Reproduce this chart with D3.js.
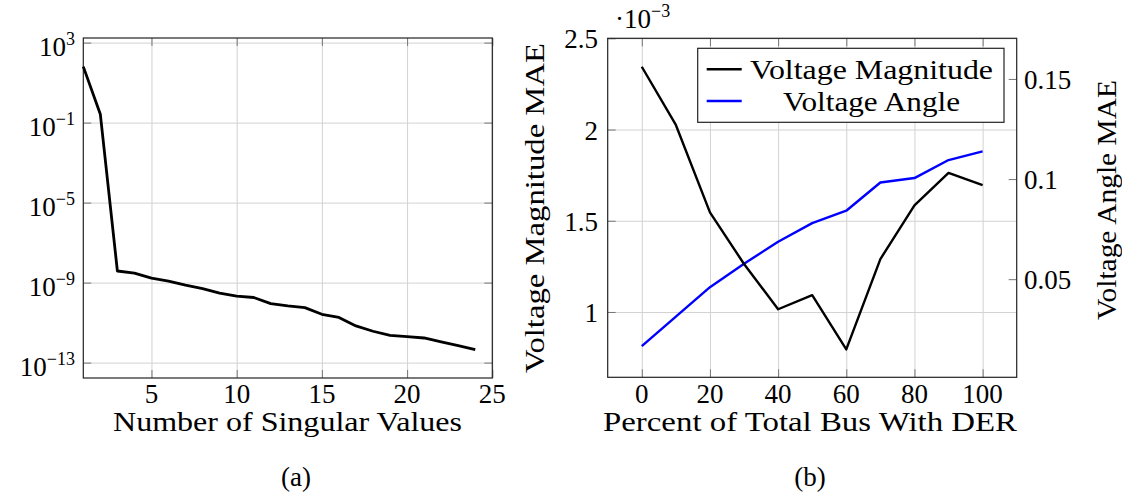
<!DOCTYPE html>
<html>
<head>
<meta charset="utf-8">
<script src="https://cdn.jsdelivr.net/npm/d3@7"></script>
<style>
  body { margin: 0; background: #fff; }
  text { font-family: "Liberation Serif", "DejaVu Serif", "Noto Serif", serif; }
  .grid line { stroke: #d2d2d2; stroke-width: 1; }
  .grid path, .ticks path { display: none; }
  .ticks line { stroke: #777; stroke-width: 1; }
</style>
</head>
<body>
<svg id="fig" width="1122" height="501"></svg>
<script>
// (a) singular values
var svIndex = [1, 2, 3, 4, 5, 6, 7, 8, 9, 10, 11, 12, 13, 14, 15, 16, 17, 18, 19, 20, 21, 22, 23, 24];
var svValue = [63, 0.26, 3.8e-9, 3.0e-9, 1.66e-9, 1.2e-9, 7.4e-10, 5.0e-10, 3.0e-10, 2.1e-10,
  1.8e-10, 8.9e-11, 6.8e-11, 5.6e-11, 2.6e-11, 1.8e-11, 6.8e-12, 3.7e-12, 2.3e-12, 2.0e-12,
  1.7e-12, 1.1e-12, 7.1e-13, 4.5e-13];
var svXTicks = [5, 10, 15, 20, 25];
var svYTicks = [1e3, 1e-1, 1e-5, 1e-9, 1e-13];

// (b) MAE vs percent of buses with DER
var derPercent = [0, 10, 20, 30, 40, 50, 60, 70, 80, 90, 100];
var magMAE = [2.344, 2.025, 1.546, 1.263, 1.015, 1.092, 0.795, 1.29, 1.584, 1.762, 1.695]; // x 1e-3
var angMAE = [0.0166, 0.0313, 0.046, 0.0577, 0.0687, 0.078, 0.0842, 0.0983, 0.1005, 0.1095, 0.1138];
var derXTicks = [0, 20, 40, 60, 80, 100];
var magTicks = [1, 1.5, 2, 2.5];
var angTicks = [0.05, 0.1, 0.15];
var seriesNames = ["Voltage Magnitude", "Voltage Angle"];

var svg = d3.select("#fig");
var FS = 27;
var SERIF = "'Liberation Serif', 'DejaVu Serif', 'Noto Serif', serif";

function frame(g, x, y, xt, yt, rightTicks) {
  var x0 = x.range()[0], x1 = x.range()[1];
  var y0 = y.range()[1], y1 = y.range()[0];
  var w = x1 - x0, h = y1 - y0;

  g.append("g").attr("class", "grid")
    .attr("transform", "translate(0," + y1 + ")")
    .call(d3.axisBottom(x).tickValues(xt).tickSize(-h).tickFormat(""));
  g.append("g").attr("class", "grid")
    .attr("transform", "translate(" + x0 + ",0)")
    .call(d3.axisLeft(y).tickValues(yt).tickSize(-w).tickFormat(""));

  g.append("g").attr("class", "ticks")
    .attr("transform", "translate(0," + y1 + ")")
    .call(d3.axisBottom(x).tickValues(xt).tickSize(-8).tickFormat(""));
  g.append("g").attr("class", "ticks")
    .attr("transform", "translate(0," + y0 + ")")
    .call(d3.axisTop(x).tickValues(xt).tickSize(-8).tickFormat(""));
  g.append("g").attr("class", "ticks")
    .attr("transform", "translate(" + x0 + ",0)")
    .call(d3.axisLeft(y).tickValues(yt).tickSize(-8).tickFormat(""));
  if (rightTicks) {
    g.append("g").attr("class", "ticks")
      .attr("transform", "translate(" + x1 + ",0)")
      .call(d3.axisRight(rightTicks.scale).tickValues(rightTicks.values).tickSize(-8).tickFormat(""));
  }

  g.append("rect")
    .attr("x", x0).attr("y", y0)
    .attr("width", w).attr("height", h)
    .attr("fill", "none").attr("stroke", "#222").attr("stroke-width", 1.2);
}

function txt(g) {
  return g.append("text").attr("font-family", SERIF).attr("font-size", FS);
}

function xLabels(g, x, vals, base) {
  g.selectAll(null).data(vals).enter().append("text")
    .attr("font-family", SERIF)
    .attr("x", function(d) { return x(d); })
    .attr("y", base)
    .attr("text-anchor", "middle")
    .attr("font-size", FS)
    .text(function(d) { return d; });
}

// ---------- (a)
var ga = svg.append("g");
var xa = d3.scaleLinear().domain([1, 25]).range([83.3, 492.3]);
var ya = d3.scaleLog().domain([Math.pow(10, -13.77), Math.pow(10, 3.23)]).range([378, 38]);

frame(ga, xa, ya, svXTicks, svYTicks, { scale: ya, values: svYTicks });

ga.append("path")
  .datum(svIndex.map(function(d, i) { return [d, svValue[i]]; }))
  .attr("fill", "none")
  .attr("stroke", "#000")
  .attr("stroke-width", 2.8)
  .attr("stroke-linejoin", "round")
  .attr("d", d3.line()
    .x(function(d) { return xa(d[0]); })
    .y(function(d) { return ya(d[1]); }));

xLabels(ga, xa, svXTicks, 403);

var ylab = ga.selectAll(null).data(svYTicks).enter().append("text")
  .attr("font-family", SERIF)
  .attr("x", 75)
  .attr("y", function(d) { return ya(d) + 13; })
  .attr("text-anchor", "end")
  .attr("font-size", FS);
ylab.append("tspan").text("10");
ylab.append("tspan")
  .attr("dy", -11)
  .attr("font-size", 18)
  .text(function(d) { return String(Math.round(Math.log10(d))).replace("-", "\u2212"); });

txt(ga)
  .attr("x", 287.5).attr("y", 431)
  .attr("text-anchor", "middle")
  .attr("textLength", 349).attr("lengthAdjust", "spacingAndGlyphs")
  .text("Number of Singular Values");

txt(ga)
  .attr("x", 296).attr("y", 486)
  .attr("text-anchor", "middle")
  .text("(a)");

// ---------- (b)
var gb = svg.append("g");
var xb = d3.scaleLinear().domain([-10, 110]).range([607.7, 1016.7]);
var yMag = d3.scaleLinear().domain([0.642, 2.5]).range([377.3, 38.3]);
var yAng = d3.scaleLinear().domain([0.001, 0.1703]).range([377.3, 38.3]);

frame(gb, xb, yMag, derXTicks, magTicks, { scale: yAng, values: angTicks });

gb.append("path")
  .datum(derPercent.map(function(d, i) { return [d, angMAE[i]]; }))
  .attr("fill", "none")
  .attr("stroke", "#0000ff")
  .attr("stroke-width", 2.4)
  .attr("stroke-linejoin", "round")
  .attr("d", d3.line()
    .x(function(d) { return xb(d[0]); })
    .y(function(d) { return yAng(d[1]); }));

gb.append("path")
  .datum(derPercent.map(function(d, i) { return [d, magMAE[i]]; }))
  .attr("fill", "none")
  .attr("stroke", "#000")
  .attr("stroke-width", 2.4)
  .attr("stroke-linejoin", "round")
  .attr("d", d3.line()
    .x(function(d) { return xb(d[0]); })
    .y(function(d) { return yMag(d[1]); }));

xLabels(gb, xb, derXTicks, 403);

gb.selectAll(null).data(magTicks).enter().append("text")
  .attr("font-family", SERIF)
  .attr("x", 598)
  .attr("y", function(d) { return yMag(d) + 10; })
  .attr("text-anchor", "end")
  .attr("font-size", FS)
  .text(function(d) { return d; });

gb.selectAll(null).data(angTicks).enter().append("text")
  .attr("font-family", SERIF)
  .attr("x", 1024)
  .attr("y", function(d) { return yAng(d) + 10; })
  .attr("text-anchor", "start")
  .attr("font-size", FS)
  .text(function(d) { return d; });

var sc = txt(gb).attr("x", 615).attr("y", 28);
sc.append("tspan").text("\u00b710");
sc.append("tspan").attr("dy", -11).attr("font-size", 18).text("\u22123");

txt(gb)
  .attr("transform", "translate(544,208) rotate(-90)")
  .attr("text-anchor", "middle")
  .attr("textLength", 330).attr("lengthAdjust", "spacingAndGlyphs")
  .text("Voltage Magnitude MAE");

txt(gb)
  .attr("transform", "translate(1116,200) rotate(-90)")
  .attr("text-anchor", "middle")
  .attr("textLength", 240).attr("lengthAdjust", "spacingAndGlyphs")
  .text("Voltage Angle MAE");

txt(gb)
  .attr("x", 810).attr("y", 431)
  .attr("text-anchor", "middle")
  .attr("textLength", 414).attr("lengthAdjust", "spacingAndGlyphs")
  .text("Percent of Total Bus With DER");

txt(gb)
  .attr("x", 810).attr("y", 486)
  .attr("text-anchor", "middle")
  .text("(b)");

// legend
var lg = gb.append("g");
lg.append("rect")
  .attr("x", 697.7).attr("y", 48.3)
  .attr("width", 306.3).attr("height", 74)
  .attr("fill", "#fff").attr("stroke", "#222").attr("stroke-width", 1.2);
var legendColors = ["#000", "#0000ff"];
var legendWidths = [243, 177];
var legendY = d3.scalePoint().domain(seriesNames).range([69.3, 101]);
var items = lg.selectAll(null).data(seriesNames).enter().append("g");
items.append("line")
  .attr("x1", 706.7).attr("x2", 741.7)
  .attr("y1", function(d) { return legendY(d); })
  .attr("y2", function(d) { return legendY(d); })
  .attr("stroke", function(d, i) { return legendColors[i]; })
  .attr("stroke-width", 2.6);
items.append("text")
  .attr("font-family", SERIF)
  .attr("x", 871.5)
  .attr("y", function(d) { return legendY(d) + 10; })
  .attr("text-anchor", "middle")
  .attr("font-size", FS)
  .attr("textLength", function(d, i) { return legendWidths[i]; })
  .attr("lengthAdjust", "spacingAndGlyphs")
  .text(function(d) { return d; });
</script>
</body>
</html>
